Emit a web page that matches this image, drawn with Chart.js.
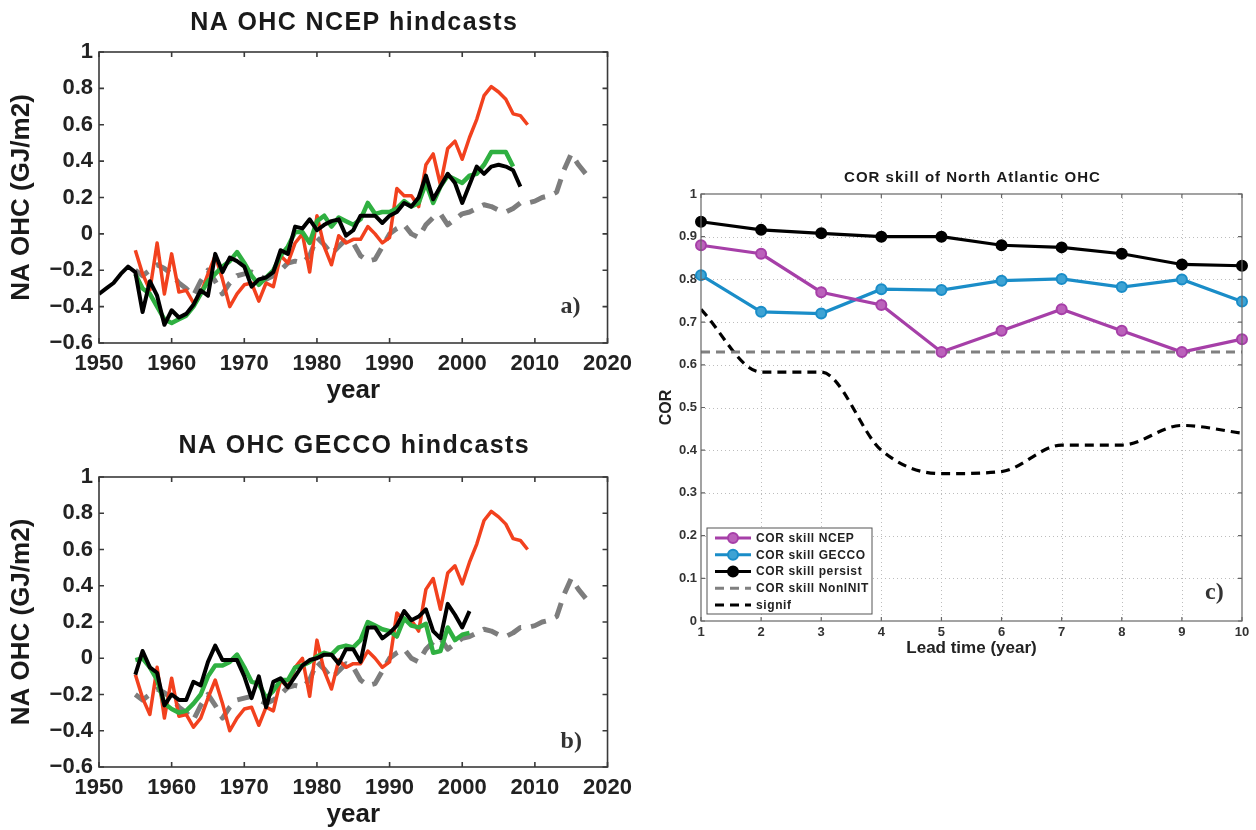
<!DOCTYPE html>
<html>
<head>
<meta charset="utf-8">
<script src="https://cdn.jsdelivr.net/npm/chart.js@4.4.1/dist/chart.umd.min.js"></script>
<style>
html, body { margin: 0; padding: 0; background: #fff; width: 1256px; height: 830px; overflow: hidden; }
body { position: relative; }
canvas { position: absolute; }
</style>
</head>
<body>
<canvas id="panelA" width="640" height="420" style="left:0;top:0"></canvas>
<canvas id="panelB" width="640" height="420" style="left:0;top:415px"></canvas>
<canvas id="panelC" width="606" height="520" style="left:650px;top:150px"></canvas>
<script>
// --- panels a/b: NA OHC (GJ/m2) per year ---
const obsStart = 1955;   // red, 1955-2009 (same in a and b)
const obsOHC = [
    -0.09, -0.22, -0.31, -0.05, -0.33,
    -0.11, -0.32, -0.31, -0.38, -0.33, -0.22, -0.12, -0.25, -0.40, -0.33,
    -0.28, -0.27, -0.37, -0.27, -0.29, -0.12, -0.16, -0.05, 0.00, -0.21,
    0.10, -0.07, -0.17, -0.01, -0.05, -0.03, -0.03, 0.04, 0.00, -0.05,
    -0.02, 0.25, 0.21, 0.21, 0.15, 0.38, 0.44, 0.27, 0.47, 0.51,
    0.41, 0.53, 0.63, 0.76, 0.81, 0.78, 0.74, 0.66, 0.65, 0.60
];
const nonInitStart = 1955;   // grey dashed, 1955-2017 (same in a and b)
const nonInitOHC = [
    -0.20, -0.23, -0.20, -0.17, -0.19,
    -0.22, -0.27, -0.30, -0.34, -0.26, -0.20, -0.26, -0.33, -0.27, -0.23,
    -0.22, -0.21, -0.23, -0.25, -0.23, -0.20, -0.16, -0.15, -0.16, -0.12,
    -0.02, -0.06, -0.11, -0.07, -0.03, -0.05, -0.12, -0.15, -0.14, -0.07,
    0.00, 0.03, 0.05, 0.00, -0.02, 0.05, 0.09, 0.11, 0.05, 0.08,
    0.11, 0.12, 0.14, 0.16, 0.15, 0.13, 0.12, 0.14, 0.17, 0.17,
    0.18, 0.20, 0.21, 0.23, 0.35, 0.44, 0.38, 0.33
];
const ncepBlackStart = 1950;   // black, panel a
const ncepBlack = [
    -0.33, -0.30, -0.27, -0.22, -0.18, -0.21, -0.43, -0.26, -0.34, -0.50,
    -0.42, -0.46, -0.44, -0.39, -0.31, -0.34, -0.11, -0.21, -0.13, -0.15,
    -0.18, -0.29, -0.25, -0.24, -0.21, -0.09, -0.11, 0.04, 0.03, 0.08,
    0.02, 0.05, 0.07, 0.08, -0.01, 0.02, 0.10, 0.10, 0.10, 0.06,
    0.10, 0.12, 0.17, 0.15, 0.20, 0.32, 0.19, 0.26, 0.33, 0.28,
    0.17, 0.27, 0.37, 0.33, 0.37, 0.38, 0.37, 0.35, 0.26
];
const ncepGreenStart = 1955;   // green, panel a
const ncepGreen = [
    -0.22, -0.30, -0.33, -0.40, -0.47,
    -0.49, -0.47, -0.45, -0.40, -0.33, -0.26, -0.22, -0.18, -0.15, -0.10,
    -0.16, -0.23, -0.28, -0.24, -0.20, -0.12, -0.07, 0.01, 0.01, -0.05,
    0.07, 0.10, 0.04, 0.09, 0.07, 0.05, 0.08, 0.17, 0.11, 0.12,
    0.12, 0.14, 0.18, 0.15, 0.17, 0.28, 0.17, 0.26, 0.32, 0.30,
    0.28, 0.32, 0.33, 0.38, 0.45, 0.45, 0.45, 0.37
];
const geccoStart = 1955;   // panel b, 1955-2001
const geccoGreen = [
    -0.01, 0.00, -0.05, -0.12, -0.25,
    -0.28, -0.30, -0.29, -0.25, -0.20, -0.10, -0.04, -0.04, -0.02, 0.02,
    -0.05, -0.13, -0.14, -0.22, -0.18, -0.12, -0.12, -0.05, -0.04, -0.02,
    0.01, 0.03, 0.02, 0.06, 0.07, 0.06, 0.10, 0.20, 0.18, 0.16,
    0.15, 0.12, 0.22, 0.18, 0.17, 0.19, 0.03, 0.04, 0.17, 0.10,
    0.13, 0.14
];
const geccoBlack = [
    -0.09, 0.04, -0.05, -0.08, -0.26,
    -0.20, -0.23, -0.23, -0.13, -0.15, -0.02, 0.07, -0.01, -0.01, -0.01,
    -0.10, -0.22, -0.10, -0.27, -0.13, -0.11, -0.16, -0.10, -0.04, -0.01,
    0.00, 0.02, 0.02, -0.03, 0.05, 0.05, -0.02, 0.17, 0.17, 0.11,
    0.14, 0.18, 0.26, 0.21, 0.23, 0.27, 0.15, 0.11, 0.30, 0.24,
    0.17, 0.26
];

// --- panel c: COR skill vs lead time ---
const leadTimes = [1, 2, 3, 4, 5, 6, 7, 8, 9, 10];
const corNCEP = [0.88, 0.86, 0.77, 0.74, 0.63, 0.68, 0.73, 0.68, 0.63, 0.66];
const corGECCO = [0.81, 0.724, 0.72, 0.777, 0.775, 0.797, 0.801, 0.782, 0.80, 0.748];
const corPersist = [0.935, 0.916, 0.908, 0.90, 0.90, 0.88, 0.875, 0.86, 0.835, 0.832];
const corNonInit = [0.63, 0.63, 0.63, 0.63, 0.63, 0.63, 0.63, 0.63, 0.63, 0.63];
const corSignif = [0.73, 0.583, 0.583, 0.40, 0.345, 0.35, 0.412, 0.412, 0.458, 0.44];

Chart.defaults.font.family = "'Liberation Sans', Arial, Helvetica, sans-serif";
Chart.defaults.font.weight = 'bold';
Chart.defaults.color = '#222';

function toPoints(start, values) {
    return values.map((v, i) => ({ x: start + i, y: v }));
}

function fmt(v) {
    const r = parseFloat(v.toFixed(1));
    if (r === 0) return '0';
    return String(r).replace('-', '\u2212');
}

// frame, inward ticks, dotted grid, panel title, tag, legend
const framePlugin = {
    id: 'frame',
    beforeDatasetsDraw(chart, args, opts) {
        if (!opts.grid) return;
        const ctx = chart.ctx, ca = chart.chartArea;
        ctx.save();
        ctx.strokeStyle = '#bdbdbd';
        ctx.lineWidth = 1;
        ctx.setLineDash([1, 3]);
        chart.scales.x.ticks.forEach(t => {
            const px = Math.round(chart.scales.x.getPixelForValue(t.value)) + 0.5;
            if (px <= ca.left + 1 || px >= ca.right - 1) return;
            ctx.beginPath(); ctx.moveTo(px, ca.top); ctx.lineTo(px, ca.bottom); ctx.stroke();
        });
        chart.scales.y.ticks.forEach(t => {
            const py = Math.round(chart.scales.y.getPixelForValue(t.value)) + 0.5;
            if (py <= ca.top + 1 || py >= ca.bottom - 1) return;
            ctx.beginPath(); ctx.moveTo(ca.left, py); ctx.lineTo(ca.right, py); ctx.stroke();
        });
        ctx.restore();
    },
    afterDatasetsDraw(chart, args, opts) {
        const ctx = chart.ctx, ca = chart.chartArea;
        const tl = opts.tickLen;
        ctx.save();
        ctx.strokeStyle = opts.color;
        ctx.lineWidth = opts.width;
        ctx.setLineDash([]);
        ctx.strokeRect(ca.left, ca.top, ca.right - ca.left, ca.bottom - ca.top);
        chart.scales.x.ticks.forEach(t => {
            const px = chart.scales.x.getPixelForValue(t.value);
            ctx.beginPath();
            ctx.moveTo(px, ca.bottom); ctx.lineTo(px, ca.bottom - tl);
            ctx.moveTo(px, ca.top); ctx.lineTo(px, ca.top + tl);
            ctx.stroke();
        });
        chart.scales.y.ticks.forEach(t => {
            const py = chart.scales.y.getPixelForValue(t.value);
            ctx.beginPath();
            ctx.moveTo(ca.left, py); ctx.lineTo(ca.left + tl, py);
            ctx.moveTo(ca.right, py); ctx.lineTo(ca.right - tl, py);
            ctx.stroke();
        });

        // legend (panel c)
        if (opts.legend) {
            const lg = opts.legend;
            const x0 = ca.left + lg.left;
            const y0 = ca.bottom - lg.bottom - lg.height;
            ctx.fillStyle = '#fff';
            ctx.fillRect(x0, y0, lg.width, lg.height);
            ctx.strokeStyle = '#555';
            ctx.lineWidth = 1;
            ctx.strokeRect(x0, y0, lg.width, lg.height);
            chart.data.datasets.forEach((ds, i) => {
                const cy = y0 + lg.first + i * lg.step;
                ctx.strokeStyle = ds.borderColor;
                ctx.lineWidth = ds.borderWidth;
                ctx.setLineDash(ds.borderDash || []);
                ctx.beginPath();
                ctx.moveTo(x0 + 8, cy); ctx.lineTo(x0 + 44, cy);
                ctx.stroke();
                ctx.setLineDash([]);
                if (ds.pointRadius > 0) {
                    ctx.beginPath();
                    ctx.arc(x0 + 26, cy, ds.pointRadius, 0, Math.PI * 2);
                    ctx.fillStyle = ds.pointBackgroundColor;
                    ctx.fill();
                    ctx.lineWidth = ds.pointBorderWidth;
                    ctx.strokeStyle = ds.borderColor;
                    ctx.stroke();
                }
                ctx.fillStyle = '#222';
                ctx.font = lg.font;
                ctx.letterSpacing = lg.spacing;
                ctx.textAlign = 'left';
                ctx.textBaseline = 'middle';
                ctx.fillText(ds.label, x0 + 49, cy + 0.5);
                ctx.letterSpacing = '0px';
            });
        }

        // panel title
        ctx.fillStyle = '#1a1a1a';
        ctx.font = opts.titleFont;
        ctx.letterSpacing = opts.titleSpacing || '0px';
        ctx.textAlign = 'center';
        ctx.textBaseline = 'middle';
        ctx.fillText(opts.title, (ca.left + ca.right) / 2 + 1, ca.top - opts.titleOffset);
        ctx.letterSpacing = '0px';

        // panel tag a) b) c)
        ctx.font = "bold 24px 'Liberation Serif', 'Times New Roman', serif";
        ctx.textAlign = 'left';
        ctx.textBaseline = 'alphabetic';
        ctx.fillStyle = '#333';
        ctx.fillText(opts.tag, ca.right - opts.tagRight, ca.bottom - opts.tagBottom);
        ctx.restore();
    }
};

function ohcChart(id, title, tag, tagBottom, pad, black, green) {
    return new Chart(document.getElementById(id), {
        type: 'line',
        data: {
            datasets: [
                { label: 'black', data: black, borderColor: '#000', borderWidth: 4 },
                { label: 'green', data: green, borderColor: '#2fb041', borderWidth: 4.5 },
                { label: 'red', data: toPoints(obsStart, obsOHC), borderColor: '#f2411e', borderWidth: 3.5 },
                { label: 'grey', data: toPoints(nonInitStart, nonInitOHC), borderColor: '#7d7d7d', borderWidth: 5, borderDash: [16, 10] }
            ]
        },
        options: {
            responsive: false,
            animation: false,
            layout: { padding: pad },
            elements: { point: { radius: 0 }, line: { tension: 0, borderJoinStyle: 'round', borderCapStyle: 'butt' } },
            plugins: {
                legend: { display: false },
                tooltip: { enabled: false },
                frame: {
                    color: '#3a3a3a', width: 1.6, tickLen: 5,
                    title: title, titleFont: "bold 25px 'Liberation Sans', Arial, sans-serif",
                    titleSpacing: '1.4px', titleOffset: pad.titleOffset,
                    tag: tag, tagRight: 47, tagBottom: tagBottom
                }
            },
            scales: {
                x: {
                    type: 'linear', min: 1950, max: 2020,
                    grid: { display: false, drawTicks: false },
                    border: { display: false },
                    ticks: { stepSize: 10, padding: 8, font: { size: 22, weight: 'bold' }, color: '#222', callback: v => String(v), maxRotation: 0 },
                    title: { display: true, text: 'year', font: { size: 26, weight: 'bold' }, color: '#1a1a1a', padding: { top: 0, bottom: 3 } },
                    afterFit: s => { s.height = 66; }
                },
                y: {
                    min: -0.6, max: 1,
                    grid: { display: false, drawTicks: false },
                    border: { display: false },
                    ticks: { stepSize: 0.2, padding: 6, font: { size: 22, weight: 'bold' }, color: '#222', callback: v => fmt(v) },
                    title: { display: true, text: 'NA OHC (GJ/m2)', font: { size: 26, weight: 'bold' }, color: '#1a1a1a', padding: { top: 6, bottom: 0 } },
                    afterFit: s => { s.width = 99; }
                }
            }
        },
        plugins: [framePlugin]
    });
}

ohcChart('panelA', 'NA OHC NCEP hindcasts', 'a)', 30,
    { left: 0, top: 52, right: 28, bottom: 11, titleOffset: 28.5 },
    toPoints(ncepBlackStart, ncepBlack), toPoints(ncepGreenStart, ncepGreen));

ohcChart('panelB', 'NA OHC GECCO hindcasts', 'b)', 19,
    { left: 0, top: 62, right: 28, bottom: 2, titleOffset: 31 },
    toPoints(geccoStart, geccoBlack), toPoints(geccoStart, geccoGreen));

new Chart(document.getElementById('panelC'), {
    type: 'line',
    data: {
        labels: leadTimes,
        datasets: [
            { label: 'COR skill NCEP', data: corNCEP, borderColor: '#a63fa8', borderWidth: 3.2, clip: 8,
              pointRadius: 5, pointBackgroundColor: '#bb62bb', pointBorderColor: '#a63fa8', pointBorderWidth: 2 },
            { label: 'COR skill GECCO', data: corGECCO, borderColor: '#1a8dc8', borderWidth: 3.2, clip: 8,
              pointRadius: 5, pointBackgroundColor: '#3ea3d4', pointBorderColor: '#1a8dc8', pointBorderWidth: 2 },
            { label: 'COR skill persist', data: corPersist, borderColor: '#000', borderWidth: 3.2, clip: 8,
              pointRadius: 5, pointBackgroundColor: '#000', pointBorderColor: '#000', pointBorderWidth: 2 },
            { label: 'COR skill NonINIT', data: corNonInit, borderColor: '#808080', borderWidth: 3.2,
              borderDash: [9, 6], pointRadius: 0 },
            { label: 'signif', data: corSignif, borderColor: '#000', borderWidth: 3.2,
              borderDash: [9, 6], pointRadius: 0, cubicInterpolationMode: 'monotone' }
        ]
    },
    options: {
        responsive: false,
        animation: false,
        layout: { padding: { left: 0, top: 44, right: 14, bottom: 9 } },
        elements: { line: { tension: 0 } },
        plugins: {
            legend: { display: false },
            tooltip: { enabled: false },
            frame: {
                color: '#666', width: 1.2, tickLen: 4, grid: true,
                title: 'COR skill of North Atlantic OHC', titleFont: "bold 15px 'Liberation Sans', Arial, sans-serif",
                titleSpacing: '1px', titleOffset: 16,
                tag: 'c)', tagRight: 37, tagBottom: 22,
                legend: { left: 6, bottom: 7, width: 165, height: 86, first: 10, step: 16.75,
                          font: "bold 12px 'Liberation Sans', Arial, sans-serif", spacing: '0.6px' }
            }
        },
        scales: {
            x: {
                type: 'linear', min: 1, max: 10,
                grid: { display: false, drawTicks: false },
                border: { display: false },
                ticks: { stepSize: 1, padding: 4, font: { size: 13, weight: 'bold' }, color: '#333', maxRotation: 0 },
                title: { display: true, text: 'Lead time (year)', font: { size: 17, weight: 'bold' }, color: '#222', padding: { top: 0, bottom: 2 } },
                afterFit: s => { s.height = 40; }
            },
            y: {
                min: 0, max: 1,
                grid: { display: false, drawTicks: false },
                border: { display: false },
                ticks: { stepSize: 0.1, padding: 4, font: { size: 13, weight: 'bold' }, color: '#333', callback: v => fmt(v) },
                title: { display: true, text: 'COR', font: { size: 16, weight: 'bold' }, color: '#222', padding: { top: 7, bottom: 0 } },
                afterFit: s => { s.width = 51; }
            }
        }
    },
    plugins: [framePlugin]
});
</script>
</body>
</html>
